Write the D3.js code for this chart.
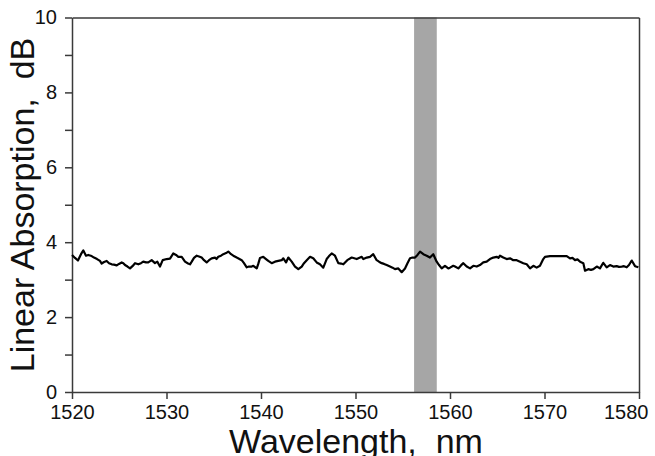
<!DOCTYPE html>
<html>
<head>
<meta charset="utf-8">
<script src="https://cdn.jsdelivr.net/npm/d3@7"></script>
<style>
  body { margin: 0; background: #fff; }
</style>
</head>
<body>
<div class="absorptionChart"></div>
<script>
// Chart settings
const width = 655;
const height = 456;
const margin = { top: 17.5, right: 16, bottom: 64, left: 72 };

// Data
const wavelengths = [
    1520.00, 1520.32, 1520.63, 1520.95, 1521.20, 1521.48, 1521.72, 1522.08, 1522.33, 1522.65,
    1522.96, 1523.14, 1523.39, 1523.67, 1523.92, 1524.20, 1524.44, 1524.73, 1524.97, 1525.26,
    1525.43, 1525.61, 1525.87, 1526.14, 1526.40, 1526.67, 1527.02, 1527.30, 1527.54, 1527.83,
    1528.07, 1528.43, 1528.78, 1529.03, 1529.31, 1529.60, 1530.02, 1530.37, 1530.72, 1531.01,
    1531.25, 1531.61, 1531.96, 1532.28, 1532.49, 1532.67, 1532.91, 1533.20, 1533.44, 1533.72,
    1533.97, 1534.25, 1534.50, 1534.78, 1535.13, 1535.29, 1535.48, 1535.77, 1536.01, 1536.30,
    1536.54, 1536.83, 1537.07, 1537.43, 1537.67, 1537.96, 1538.20, 1538.49, 1538.73, 1539.02,
    1539.19, 1539.55, 1539.71, 1539.89, 1540.24, 1540.53, 1540.77, 1541.13, 1541.48, 1541.83,
    1542.19, 1542.36, 1542.65, 1542.89, 1543.25, 1543.60, 1543.95, 1544.31, 1544.55, 1544.84,
    1545.19, 1545.53, 1545.89, 1546.24, 1546.59, 1546.95, 1547.20, 1547.48, 1547.83, 1548.18,
    1548.47, 1548.71, 1549.13, 1549.60, 1550.13, 1550.66, 1550.83, 1551.19, 1551.53, 1551.88,
    1552.24, 1552.49, 1552.77, 1553.02, 1553.30, 1553.65, 1553.92, 1554.18, 1554.53, 1554.89,
    1555.24, 1555.50, 1555.77, 1556.03, 1556.30, 1556.56, 1556.83, 1557.18, 1557.53, 1557.88,
    1558.23, 1558.59, 1558.84, 1559.12, 1559.47, 1559.82, 1560.00, 1560.35, 1560.53, 1560.88,
    1561.16, 1561.41, 1561.77, 1562.12, 1562.47, 1562.83, 1563.17, 1563.52, 1563.88, 1564.23,
    1564.58, 1564.94, 1565.13, 1565.29, 1565.64, 1566.00, 1566.35, 1566.70, 1567.06, 1567.41,
    1567.76, 1568.12, 1568.47, 1568.82, 1569.17, 1569.52, 1569.87, 1570.05, 1570.58, 1571.29,
    1571.99, 1572.35, 1572.70, 1572.96, 1573.23, 1573.49, 1573.76, 1574.11, 1574.29, 1574.63,
    1574.92, 1575.17, 1575.53, 1575.87, 1576.22, 1576.58, 1576.93, 1577.28, 1577.64, 1577.88,
    1578.17, 1578.41, 1578.70, 1578.94, 1579.23, 1579.58, 1579.93
];

const absorption = [
    3.66, 3.58, 3.51, 3.68, 3.78, 3.64, 3.66, 3.63, 3.59, 3.55,
    3.50, 3.43, 3.47, 3.50, 3.44, 3.41, 3.40, 3.38, 3.42, 3.46,
    3.44, 3.39, 3.35, 3.30, 3.36, 3.44, 3.41, 3.44, 3.48, 3.46,
    3.46, 3.52, 3.44, 3.48, 3.35, 3.52, 3.55, 3.56, 3.70, 3.66,
    3.61, 3.61, 3.48, 3.43, 3.41, 3.48, 3.58, 3.64, 3.62, 3.59,
    3.52, 3.46, 3.52, 3.57, 3.59, 3.55, 3.61, 3.64, 3.68, 3.71,
    3.75, 3.68, 3.64, 3.59, 3.56, 3.52, 3.44, 3.33, 3.35, 3.35,
    3.37, 3.30, 3.42, 3.58, 3.61, 3.55, 3.50, 3.44, 3.48, 3.50,
    3.52, 3.57, 3.46, 3.59, 3.48, 3.35, 3.28, 3.35, 3.44, 3.52,
    3.61, 3.57, 3.46, 3.41, 3.32, 3.55, 3.63, 3.70, 3.64, 3.44,
    3.43, 3.41, 3.52, 3.59, 3.55, 3.61, 3.55, 3.59, 3.61, 3.68,
    3.52, 3.48, 3.44, 3.42, 3.39, 3.35, 3.32, 3.28, 3.30, 3.20,
    3.30, 3.44, 3.57, 3.59, 3.59, 3.66, 3.75, 3.68, 3.64, 3.59,
    3.68, 3.48, 3.39, 3.30, 3.37, 3.30, 3.32, 3.37, 3.35, 3.30,
    3.38, 3.44, 3.35, 3.30, 3.37, 3.35, 3.39, 3.46, 3.48, 3.55,
    3.59, 3.61, 3.58, 3.64, 3.59, 3.55, 3.57, 3.52, 3.52, 3.48,
    3.44, 3.41, 3.30, 3.37, 3.32, 3.37, 3.55, 3.61, 3.63, 3.63,
    3.63, 3.63, 3.57, 3.58, 3.52, 3.54, 3.48, 3.44, 3.24, 3.28,
    3.26, 3.28, 3.35, 3.30, 3.45, 3.33, 3.39, 3.35, 3.36, 3.34,
    3.35, 3.36, 3.33, 3.39, 3.51, 3.36, 3.33
];

// Shaded band (nm)
const bandStart = 1556.2;
const bandEnd = 1558.6;

// Axis ticks
const xTicks = [1520, 1530, 1540, 1550, 1560, 1570, 1580];
const yTicks = [0, 1, 2, 3, 4, 5, 6, 7, 8, 9, 10];
const yLabeled = [0, 2, 4, 6, 8, 10];

const xLabel = "Wavelength,  nm";
const yLabel = "Linear Absorption,  dB";

const axisColor = "#3a3a3a";
const font = "'Liberation Sans', Arial, sans-serif";

function drawChart() {

    const data = wavelengths.map((w, i) => ({ w: w, v: absorption[i] }));

    const svg = d3.select(".absorptionChart")
    .append("svg")
    .attr("width", width)
    .attr("height", height)
    .style("font-family", font);

    // Scales
    const x = d3.scaleLinear()
    .domain([1520, 1580])
    .range([margin.left, width - margin.right]);

    const y = d3.scaleLinear()
    .domain([0, 10])
    .range([height - margin.bottom, margin.top]);

    // Gray band
    svg.append("rect")
    .attr("x", x(bandStart))
    .attr("y", y(10))
    .attr("width", x(bandEnd) - x(bandStart))
    .attr("height", y(0) - y(10))
    .attr("fill", "#a6a6a6");

    // Frame (top and right)
    svg.append("g")
    .attr("transform", `translate(0, ${margin.top})`)
    .call(d3.axisTop(x).tickValues([]).tickSizeOuter(0))
    .call(g => g.select(".domain").attr("stroke", axisColor).attr("stroke-width", 1.5));

    svg.append("g")
    .attr("transform", `translate(${width - margin.right}, 0)`)
    .call(d3.axisRight(y).tickValues([]).tickSizeOuter(0))
    .call(g => g.select(".domain").attr("stroke", axisColor).attr("stroke-width", 1.5));

    // Bottom axis
    svg.append("g")
    .attr("transform", `translate(0, ${height - margin.bottom})`)
    .call(d3.axisBottom(x).tickValues(xTicks).tickSize(7).tickSizeOuter(0).tickPadding(6).tickFormat(d3.format("d")))
    .call(g => g.selectAll("line, .domain").attr("stroke", axisColor).attr("stroke-width", 1.5))
    .call(g => g.selectAll("text").attr("font-size", 20).attr("fill", "#111").attr("font-family", font))
    .call(g => g.selectAll(".tick text").filter(d => d === 1580).attr("text-anchor", "end").attr("x", 9));

    // Left axis
    svg.append("g")
    .attr("transform", `translate(${margin.left}, 0)`)
    .call(d3.axisLeft(y).tickValues(yTicks).tickSize(7).tickSizeOuter(0).tickPadding(8)
        .tickFormat(d => yLabeled.includes(d) ? d : ""))
    .call(g => g.selectAll("line, .domain").attr("stroke", axisColor).attr("stroke-width", 1.5))
    .call(g => g.selectAll("text").attr("font-size", 20).attr("fill", "#111").attr("font-family", font));

    // Curve
    const line = d3.line()
    .x(d => x(d.w))
    .y(d => y(d.v));

    svg.append("path")
    .datum(data)
    .attr("fill", "none")
    .attr("stroke", "#000")
    .attr("stroke-width", 2.2)
    .attr("stroke-linejoin", "round")
    .attr("d", line);

    // Axis titles
    svg.append("text")
    .attr("x", 356)
    .attr("y", 453)
    .attr("text-anchor", "middle")
    .attr("font-size", 34)
    .attr("fill", "#111")
    .style("white-space", "pre")
    .text(xLabel);

    svg.append("text")
    .attr("transform", `translate(34, 205) rotate(-90)`)
    .attr("text-anchor", "middle")
    .attr("font-size", 34)
    .attr("fill", "#111")
    .style("white-space", "pre")
    .text(yLabel);
}

drawChart();
</script>
</body>
</html>
